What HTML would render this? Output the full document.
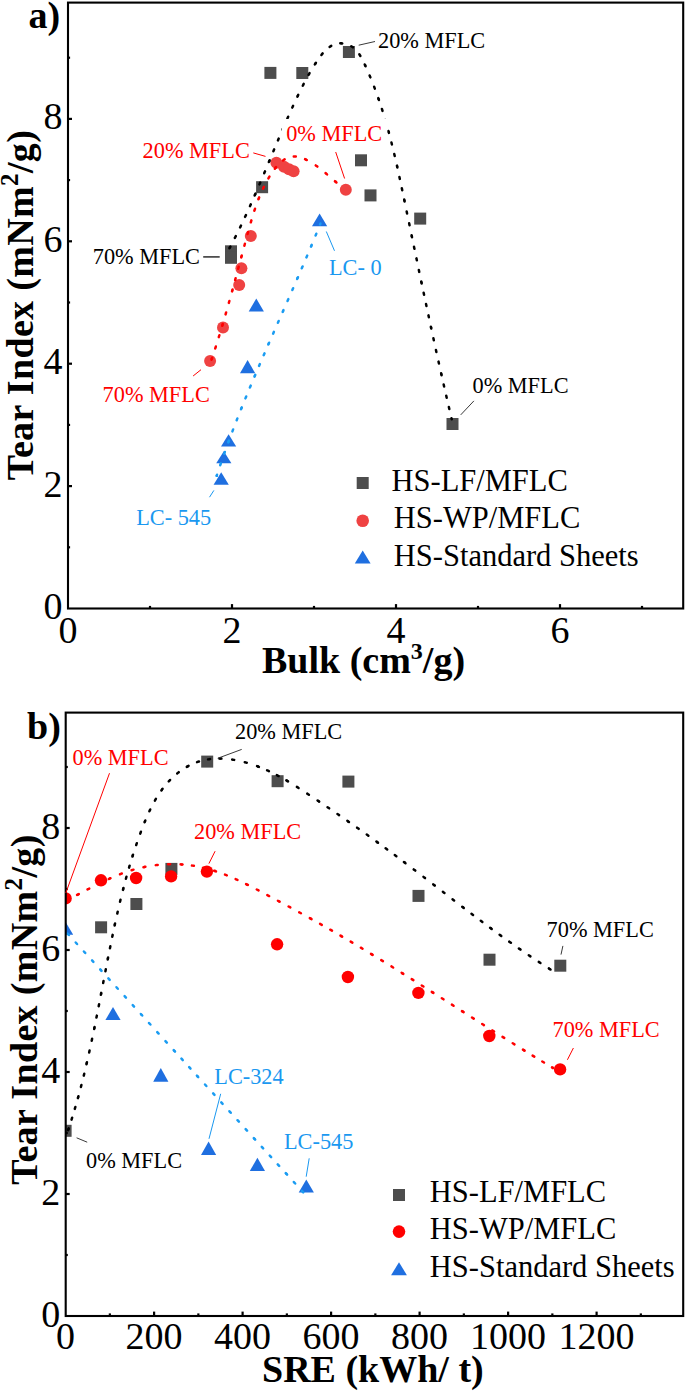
<!DOCTYPE html>
<html><head><meta charset="utf-8"><title>Tear index vs bulk and SRE</title>
<style>
html,body{margin:0;padding:0;background:#fff;width:685px;height:1391px;overflow:hidden;}
svg{display:block;font-family:"Liberation Serif",serif;}
</style></head>
<body>
<svg width="685" height="1391" viewBox="0 0 685 1391">
<rect x="0" y="0" width="685" height="1391" fill="#fff"/>
<defs><clipPath id="ca"><rect x="68" y="2.6" width="615.2" height="605.9"/></clipPath><clipPath id="cb"><rect x="65.7" y="712.6" width="617.5" height="603.4"/></clipPath></defs>
<g clip-path="url(#ca)"><rect x="264.40" y="66.90" width="12" height="12" fill="#4d4d4d"/><rect x="296.30" y="67.00" width="12" height="12" fill="#4d4d4d"/><rect x="342.90" y="46.00" width="12" height="12" fill="#4d4d4d"/><rect x="355.00" y="154.30" width="12" height="12" fill="#4d4d4d"/><rect x="364.50" y="189.40" width="12" height="12" fill="#4d4d4d"/><rect x="414.20" y="212.60" width="12" height="12" fill="#4d4d4d"/><rect x="446.50" y="418.00" width="12" height="12" fill="#4d4d4d"/><rect x="256.10" y="181.20" width="12" height="12" fill="#4d4d4d"/><rect x="225.00" y="245.30" width="12" height="12" fill="#4d4d4d"/><rect x="225.00" y="251.80" width="12" height="12" fill="#4d4d4d"/><circle cx="345.80" cy="189.70" r="6.0" fill="#ef4242"/><circle cx="276.40" cy="162.80" r="6.0" fill="#ef4242"/><circle cx="284.00" cy="166.80" r="6.0" fill="#ef4242"/><circle cx="289.00" cy="169.30" r="6.0" fill="#ef4242"/><circle cx="293.60" cy="171.30" r="6.0" fill="#ef4242"/><circle cx="250.80" cy="235.90" r="6.0" fill="#ef4242"/><circle cx="241.40" cy="268.20" r="6.0" fill="#ef4242"/><circle cx="239.20" cy="285.00" r="6.0" fill="#ef4242"/><circle cx="223.00" cy="327.40" r="6.0" fill="#ef4242"/><circle cx="210.10" cy="361.10" r="6.0" fill="#ef4242"/><polygon points="319.60,213.50 327.20,226.30 312.00,226.30" fill="#1f6fe0"/><polygon points="256.30,298.50 263.90,311.40 248.70,311.40" fill="#1f6fe0"/><polygon points="247.60,360.00 255.20,373.30 240.00,373.30" fill="#1f6fe0"/><polygon points="228.60,434.30 236.20,446.40 221.00,446.40" fill="#1f6fe0"/><polygon points="223.80,451.20 231.40,463.20 216.20,463.20" fill="#1f6fe0"/><polygon points="221.20,472.30 228.80,484.80 213.60,484.80" fill="#1f6fe0"/><path d="M227.50,251.88 L228.32,250.39 L229.13,248.90 L229.93,247.40" fill="none" stroke="#000" stroke-width="2.5" stroke-linecap="round" stroke-dasharray="2.0 10.0" stroke-dashoffset="7.907"/><path d="M229.93,247.40 L230.64,246.08 L231.34,244.75 L232.04,243.42 L232.73,242.09 L233.42,240.76 L234.11,239.43 L234.79,238.09 L235.47,236.75 L236.15,235.41 L236.82,234.07 L237.49,232.73 L238.16,231.38 L238.82,230.04 L239.48,228.69 L240.14,227.34 L240.79,225.99 L241.44,224.63 L242.09,223.28 L242.73,221.92 L243.37,220.57 L244.01,219.21 L244.65,217.85 L245.28,216.49 L245.91,215.13 L246.54,213.76 L247.16,212.40 L247.79,211.03 L248.41,209.67 L249.03,208.30 L249.64,206.93 L250.26,205.56 L250.87,204.19 L251.48,202.82 L252.09,201.45 L252.69,200.07 L253.30,198.70 L253.90,197.32 L254.50,195.95 L255.10,194.57" fill="none" stroke="#000" stroke-width="2.5" stroke-linecap="round" stroke-dasharray="2.0 9.707" stroke-dashoffset="1.000"/><path d="M255.10,194.57 L255.70,193.19 L256.30,191.80 L256.90,190.41 L257.50,189.02 L258.09,187.63 L258.69,186.24 L259.28,184.85 L259.88,183.46 L260.47,182.06 L261.06,180.67 L261.65,179.28 L262.24,177.89 L262.82,176.49 L263.41,175.10 L264.00,173.70 L264.58,172.31 L265.17,170.92 L265.75,169.52 L266.34,168.13 L266.92,166.73 L267.50,165.34 L268.09,163.94 L268.67,162.54 L269.25,161.15" fill="none" stroke="#000" stroke-width="2.5" stroke-linecap="round" stroke-dasharray="2.0 10.099" stroke-dashoffset="1.000"/><path d="M269.25,161.15 L269.84,159.74 L270.43,158.32 L271.02,156.91 L271.61,155.50 L272.20,154.08 L272.79,152.67 L273.38,151.26 L273.97,149.85 L274.56,148.44 L275.16,147.02 L275.75,145.61 L276.34,144.20 L276.94,142.79 L277.53,141.38 L278.13,139.97 L278.73,138.56 L279.32,137.15 L279.92,135.74 L280.52,134.33 L281.12,132.92 L281.73,131.52 L282.33,130.11 L282.94,128.70" fill="none" stroke="#000" stroke-width="2.5" stroke-linecap="round" stroke-dasharray="2.0 9.738" stroke-dashoffset="1.000"/><path d="M282.94,128.70 L283.53,127.32 L284.13,125.94 L284.73,124.56 L285.33,123.18 L285.94,121.80 L286.54,120.42 L287.15,119.05 L287.76,117.67 L288.37,116.29 L288.98,114.92 L289.59,113.54 L290.21,112.17 L290.83,110.80 L291.45,109.43 L292.08,108.06 L292.70,106.69 L293.33,105.32 L293.96,103.96 L294.60,102.59 L295.23,101.23 L295.87,99.87 L296.52,98.50 L297.16,97.14 L297.81,95.79" fill="none" stroke="#000" stroke-width="2.5" stroke-linecap="round" stroke-dasharray="2.0 10.042" stroke-dashoffset="1.000"/><path d="M297.81,95.79 L298.47,94.41 L299.14,93.03 L299.81,91.65 L300.49,90.28 L301.17,88.91 L301.85,87.54 L302.54,86.17 L303.24,84.81 L303.94,83.45 L304.65,82.09 L305.36,80.74 L306.09,79.39 L306.81,78.05 L307.55,76.71 L308.30,75.37 L309.05,74.04 L309.81,72.71 L310.58,71.39 L311.36,70.07 L312.15,68.75 L312.94,67.45 L313.74,66.14 L314.56,64.85 L315.38,63.56" fill="none" stroke="#000" stroke-width="2.5" stroke-linecap="round" stroke-dasharray="2.0 10.244" stroke-dashoffset="1.000"/><path d="M315.38,63.56 L316.23,62.24 L317.09,60.93 L317.97,59.64 L318.87,58.35 L319.78,57.08 L320.72,55.83 L321.69,54.59 L322.69,53.38 L323.72,52.21 L324.79,51.06 L325.90,49.96 L327.06,48.90 L328.26,47.90 L329.52,46.96 L330.83,46.11 L332.20,45.34 L333.62,44.68 L335.09,44.15 L336.60,43.74 L338.15,43.47 L339.71,43.34 L341.27,43.33" fill="none" stroke="#000" stroke-width="2.5" stroke-linecap="round" stroke-dasharray="2.0 9.491" stroke-dashoffset="1.000"/><path d="M341.27,43.33 L342.77,43.44 L344.26,43.65 L345.72,43.97 L347.16,44.39 L348.57,44.91 L349.94,45.53 L351.26,46.24 L352.52,47.04 L353.73,47.94 L354.86,48.93 L355.93,49.98 L356.93,51.10 L357.87,52.26 L358.76,53.47 L359.60,54.72 L360.39,55.99 L361.15,57.29 L361.87,58.61 L362.56,59.94 L363.23,61.28 L363.88,62.63 L364.52,63.99 L365.15,65.35" fill="none" stroke="#000" stroke-width="2.5" stroke-linecap="round" stroke-dasharray="2.0 9.506" stroke-dashoffset="1.000"/><path d="M365.15,65.35 L365.78,66.73 L366.40,68.10 L367.02,69.48 L367.63,70.87 L368.23,72.25 L368.83,73.64 L369.42,75.03 L370.00,76.43 L370.58,77.82 L371.16,79.22 L371.73,80.62 L372.29,82.02 L372.84,83.43 L373.40,84.84 L373.94,86.25 L374.48,87.66 L375.02,89.07 L375.54,90.49 L376.07,91.90 L376.59,93.32 L377.10,94.75 L377.61,96.17 L378.11,97.59 L378.61,99.02" fill="none" stroke="#000" stroke-width="2.5" stroke-linecap="round" stroke-dasharray="2.0 10.091" stroke-dashoffset="1.000"/><path d="M378.61,99.02 L379.12,100.50 L379.62,101.98 L380.12,103.47 L380.61,104.95 L381.10,106.44 L381.59,107.93 L382.06,109.42 L382.54,110.91 L383.01,112.40 L383.47,113.90 L383.93,115.39 L384.38,116.89 L384.83,118.39 L385.28,119.89 L385.72,121.39 L386.15,122.90 L386.58,124.40 L387.01,125.91 L387.43,127.41 L387.85,128.92 L388.27,130.43 L388.68,131.94" fill="none" stroke="#000" stroke-width="2.5" stroke-linecap="round" stroke-dasharray="2.0 9.477" stroke-dashoffset="1.000"/><path d="M388.68,131.94 L389.08,133.44 L389.48,134.94 L389.88,136.44 L390.27,137.94 L390.66,139.44 L391.05,140.94 L391.43,142.45 L391.81,143.95 L392.18,145.46 L392.56,146.96 L392.93,148.47 L393.29,149.98 L393.66,151.49 L394.02,153.00 L394.37,154.51 L394.73,156.02 L395.08,157.53 L395.43,159.04 L395.78,160.55 L396.13,162.06 L396.47,163.58 L396.81,165.09 L397.15,166.60" fill="none" stroke="#000" stroke-width="2.5" stroke-linecap="round" stroke-dasharray="2.0 9.895" stroke-dashoffset="1.000"/><path d="M397.15,166.60 L397.48,168.08 L397.81,169.55 L398.14,171.03 L398.46,172.50 L398.78,173.97 L399.10,175.45 L399.42,176.93 L399.74,178.40 L400.05,179.88 L400.37,181.35 L400.68,182.83 L401.00,184.31 L401.31,185.79 L401.62,187.26 L401.93,188.74 L402.24,190.22 L402.55,191.70 L402.86,193.17 L403.17,194.65 L403.48,196.13 L403.79,197.61 L404.09,199.08 L404.40,200.56" fill="none" stroke="#000" stroke-width="2.5" stroke-linecap="round" stroke-dasharray="2.0 9.575" stroke-dashoffset="1.000"/><path d="M404.40,200.56 L404.71,202.05 L405.02,203.53 L405.33,205.02 L405.64,206.50 L405.95,207.99 L406.25,209.48 L406.56,210.96 L406.87,212.45 L407.18,213.93 L407.49,215.42 L407.80,216.90 L408.11,218.39 L408.41,219.87 L408.72,221.36 L409.03,222.84 L409.34,224.33 L409.65,225.82 L409.96,227.30 L410.26,228.79 L410.57,230.27 L410.88,231.76 L411.19,233.24 L411.50,234.73 L411.81,236.21" fill="none" stroke="#000" stroke-width="2.5" stroke-linecap="round" stroke-dasharray="2.0 10.137" stroke-dashoffset="1.000"/><path d="M411.81,236.21 L412.12,237.71 L412.43,239.20 L412.74,240.69 L413.05,242.18 L413.36,243.68 L413.67,245.17 L413.98,246.66 L414.29,248.15 L414.60,249.65 L414.91,251.14 L415.22,252.63 L415.53,254.12 L415.84,255.62 L416.16,257.11 L416.47,258.60 L416.78,260.09 L417.09,261.59 L417.40,263.08 L417.71,264.57 L418.03,266.06 L418.34,267.56 L418.65,269.05 L418.96,270.54 L419.27,272.03 L419.59,273.52 L419.90,275.02 L420.21,276.51 L420.53,278.00 L420.84,279.49 L421.15,280.98 L421.47,282.48" fill="none" stroke="#000" stroke-width="2.5" stroke-linecap="round" stroke-dasharray="2.0 9.815" stroke-dashoffset="1.000"/><path d="M421.47,282.48 L421.78,283.98 L422.10,285.49 L422.42,286.99 L422.73,288.50 L423.05,290.00 L423.37,291.51 L423.69,293.02 L424.01,294.52 L424.33,296.03 L424.64,297.53 L424.96,299.04 L425.28,300.54 L425.60,302.05 L425.92,303.55 L426.24,305.06 L426.56,306.56 L426.88,308.07 L427.20,309.57 L427.53,311.08 L427.85,312.58 L428.17,314.09 L428.49,315.59 L428.81,317.10 L429.14,318.60 L429.46,320.11 L429.78,321.61 L430.11,323.12 L430.43,324.62 L430.75,326.13 L431.08,327.63" fill="none" stroke="#000" stroke-width="2.5" stroke-linecap="round" stroke-dasharray="2.0 9.541" stroke-dashoffset="1.000"/><path d="M431.08,327.63 L431.40,329.13 L431.73,330.64 L432.06,332.14 L432.38,333.65 L432.71,335.15 L433.04,336.66 L433.36,338.16 L433.69,339.67 L434.02,341.17 L434.35,342.67 L434.68,344.18 L435.00,345.68 L435.33,347.18 L435.66,348.69 L436.00,350.19 L436.33,351.70 L436.66,353.20 L436.99,354.70 L437.32,356.21 L437.65,357.71 L437.99,359.21 L438.32,360.71 L438.66,362.22 L438.99,363.72 L439.32,365.22 L439.66,366.72 L440.00,368.23 L440.33,369.73 L440.67,371.23 L441.01,372.73 L441.34,374.24" fill="none" stroke="#000" stroke-width="2.5" stroke-linecap="round" stroke-dasharray="2.0 9.931" stroke-dashoffset="1.000"/><path d="M441.34,374.24 L441.68,375.74 L442.02,377.24 L442.36,378.74 L442.70,380.24 L443.04,381.74 L443.38,383.24 L443.72,384.74 L444.06,386.24 L444.41,387.74 L444.75,389.24 L445.09,390.74 L445.44,392.24 L445.78,393.74 L446.13,395.23 L446.47,396.73 L446.82,398.23 L447.17,399.73 L447.51,401.23 L447.86,402.73 L448.21,404.23 L448.56,405.72 L448.91,407.22 L449.26,408.72 L449.61,410.22 L449.96,411.72 L450.31,413.21 L450.67,414.71 L451.02,416.21 L451.37,417.70 L451.73,419.20" fill="none" stroke="#000" stroke-width="2.5" stroke-linecap="round" stroke-dasharray="2.0 9.537" stroke-dashoffset="1.000"/><path d="M210.87,361.53 L211.82,358.75" fill="none" stroke="#ff0000" stroke-width="2.5" stroke-linecap="round" stroke-dasharray="2.0 10.0" stroke-dashoffset="10.061"/><path d="M211.82,358.75 L212.31,357.29 L212.80,355.82 L213.29,354.36 L213.77,352.89 L214.25,351.42 L214.73,349.95 L215.20,348.49 L215.68,347.02 L216.15,345.54 L216.62,344.07 L217.08,342.60 L217.55,341.13 L218.01,339.65 L218.47,338.18 L218.92,336.71 L219.38,335.23 L219.83,333.75 L220.28,332.28 L220.73,330.80 L221.18,329.32 L221.62,327.84 L222.06,326.36 L222.51,324.88" fill="none" stroke="#ff0000" stroke-width="2.5" stroke-linecap="round" stroke-dasharray="2.0 9.839" stroke-dashoffset="1.000"/><path d="M222.51,324.88 L222.95,323.39 L223.39,321.90 L223.83,320.40 L224.26,318.91 L224.70,317.41 L225.13,315.92 L225.57,314.42 L226.00,312.93 L226.43,311.43 L226.85,309.93 L227.28,308.44 L227.70,306.94 L228.13,305.44 L228.55,303.94 L228.97,302.44 L229.39,300.94 L229.81,299.45 L230.23,297.95 L230.64,296.45 L231.06,294.95 L231.47,293.44 L231.89,291.94 L232.30,290.44" fill="none" stroke="#ff0000" stroke-width="2.5" stroke-linecap="round" stroke-dasharray="2.0 9.935" stroke-dashoffset="1.000"/><path d="M232.30,290.44 L232.70,288.97 L233.11,287.49 L233.51,286.01 L233.91,284.54 L234.32,283.06 L234.72,281.58 L235.12,280.11 L235.52,278.63 L235.92,277.15 L236.32,275.67 L236.72,274.20 L237.11,272.72 L237.51,271.24 L237.91,269.76 L238.31,268.28 L238.71,266.81 L239.10,265.33 L239.50,263.85 L239.90,262.37 L240.29,260.89 L240.69,259.42 L241.09,257.94 L241.48,256.46" fill="none" stroke="#ff0000" stroke-width="2.5" stroke-linecap="round" stroke-dasharray="2.0 9.734" stroke-dashoffset="1.000"/><path d="M241.48,256.46 L241.88,254.99 L242.27,253.53 L242.67,252.06 L243.06,250.60 L243.45,249.13 L243.85,247.67 L244.24,246.21 L244.64,244.74 L245.03,243.28 L245.43,241.81 L245.83,240.35 L246.23,238.88 L246.62,237.42 L247.02,235.96 L247.42,234.49 L247.82,233.03 L248.22,231.57 L248.63,230.11 L249.03,228.64 L249.44,227.18 L249.85,225.72 L250.26,224.26 L250.68,222.80 L251.10,221.35 L251.52,219.89 L251.95,218.44 L252.39,216.98 L252.84,215.53 L253.29,214.08 L253.74,212.64 L254.21,211.19 L254.68,209.75 L255.16,208.31 L255.65,206.88 L256.15,205.45 L256.66,204.02 L257.18,202.59 L257.71,201.17 L258.25,199.75 L258.81,198.34" fill="none" stroke="#ff0000" stroke-width="2.5" stroke-linecap="round" stroke-dasharray="2.0 10.135" stroke-dashoffset="1.000"/><path d="M258.81,198.34 L259.37,196.94 L259.94,195.54 L260.53,194.15 L261.13,192.76 L261.75,191.38 L262.37,190.00 L263.01,188.63 L263.67,187.27 L264.34,185.91 L265.02,184.56 L265.72,183.22 L266.43,181.89 L267.16,180.56 L267.91,179.25 L268.66,177.94 L269.44,176.64 L270.23,175.35 L271.04,174.07 L271.87,172.81 L272.72,171.56 L273.59,170.32 L274.49,169.11 L275.42,167.91" fill="none" stroke="#ff0000" stroke-width="2.5" stroke-linecap="round" stroke-dasharray="2.0 9.593" stroke-dashoffset="1.000"/><path d="M275.42,167.91 L276.39,166.74 L277.38,165.59 L278.42,164.47 L279.49,163.39 L280.61,162.35 L281.77,161.37 L282.97,160.44 L284.23,159.58 L285.54,158.80 L286.90,158.11 L288.30,157.53 L289.75,157.06 L291.24,156.72 L292.75,156.52 L294.27,156.46 L295.79,156.53 L297.30,156.72 L298.79,157.01 L300.27,157.39 L301.72,157.84 L303.15,158.36 L304.56,158.94 L305.95,159.57" fill="none" stroke="#ff0000" stroke-width="2.5" stroke-linecap="round" stroke-dasharray="2.0 9.676" stroke-dashoffset="1.000"/><path d="M305.95,159.57 L307.34,160.26 L308.71,160.99 L310.06,161.75 L311.39,162.55 L312.71,163.37 L314.01,164.22 L315.29,165.09 L316.56,165.99 L317.82,166.90 L319.06,167.83 L320.29,168.77 L321.51,169.73 L322.72,170.70 L323.92,171.69 L325.11,172.68 L326.29,173.69 L327.47,174.70 L328.64,175.72 L329.81,176.74 L330.97,177.77 L332.14,178.79 L333.31,179.81 L334.49,180.82 L335.68,181.81" fill="none" stroke="#ff0000" stroke-width="2.5" stroke-linecap="round" stroke-dasharray="2.0 10.417" stroke-dashoffset="1.000"/><path d="M335.68,181.81 L336.86,182.78 L338.07,183.72 L339.28,184.64 L340.52,185.53 L341.78,186.39 L343.06,187.23 L344.35,188.03" fill="none" stroke="#ff0000" stroke-width="2.5" stroke-linecap="round" stroke-dasharray="2.0 10.0" stroke-dashoffset="1.000"/><path d="M216.70,475.81 L216.72,475.74" fill="none" stroke="#1a9cf2" stroke-width="2.5" stroke-linecap="round" stroke-dasharray="2.0 10.0" stroke-dashoffset="0.932"/><path d="M216.72,475.74 L217.19,474.30 L217.66,472.87 L218.14,471.43 L218.61,470.00 L219.09,468.57 L219.57,467.13 L220.05,465.70 L220.54,464.27 L221.03,462.84 L221.52,461.41 L222.01,459.99 L222.50,458.56 L223.00,457.13 L223.50,455.71 L224.00,454.28 L224.51,452.86 L225.01,451.43 L225.52,450.01 L226.03,448.59 L226.54,447.17 L227.06,445.75 L227.57,444.33 L228.09,442.91 L228.61,441.49" fill="none" stroke="#1a9cf2" stroke-width="2.5" stroke-linecap="round" stroke-dasharray="2.0 10.086" stroke-dashoffset="1.000"/><path d="M228.61,441.49 L229.15,440.04 L229.68,438.59 L230.22,437.15 L230.76,435.70 L231.31,434.25 L231.85,432.81 L232.40,431.36 L232.95,429.92 L233.50,428.47 L234.05,427.03 L234.60,425.59 L235.16,424.15 L235.72,422.71 L236.28,421.27 L236.84,419.83 L237.40,418.39 L237.96,416.95 L238.53,415.52 L239.10,414.08 L239.67,412.64 L240.24,411.21 L240.81,409.77 L241.39,408.34" fill="none" stroke="#1a9cf2" stroke-width="2.5" stroke-linecap="round" stroke-dasharray="2.0 9.842" stroke-dashoffset="1.000"/><path d="M241.39,408.34 L241.96,406.92 L242.53,405.49 L243.11,404.07 L243.68,402.65 L244.26,401.23 L244.84,399.81 L245.42,398.39 L246.00,396.97 L246.58,395.55 L247.17,394.13 L247.75,392.71 L248.34,391.29 L248.93,389.88 L249.52,388.46 L250.11,387.04 L250.70,385.63 L251.29,384.21 L251.89,382.80 L252.48,381.38 L253.08,379.97 L253.67,378.56 L254.27,377.14 L254.87,375.73" fill="none" stroke="#1a9cf2" stroke-width="2.5" stroke-linecap="round" stroke-dasharray="2.0 9.763" stroke-dashoffset="1.000"/><path d="M254.87,375.73 L255.47,374.33 L256.06,372.93 L256.66,371.53 L257.26,370.13 L257.85,368.73 L258.45,367.34 L259.05,365.94 L259.65,364.54 L260.26,363.14 L260.86,361.75 L261.46,360.35 L262.06,358.96 L262.67,357.56 L263.27,356.16 L263.88,354.77 L264.49,353.37 L265.09,351.98 L265.70,350.59 L266.31,349.19 L266.92,347.80 L267.52,346.40 L268.13,345.01 L268.74,343.62" fill="none" stroke="#1a9cf2" stroke-width="2.5" stroke-linecap="round" stroke-dasharray="2.0 9.660" stroke-dashoffset="1.000"/><path d="M268.74,343.62 L269.36,342.20 L269.99,340.78 L270.61,339.36 L271.23,337.95 L271.85,336.53 L272.48,335.11 L273.10,333.69 L273.72,332.28 L274.35,330.86 L274.97,329.44 L275.60,328.03 L276.22,326.61 L276.85,325.19 L277.47,323.78 L278.10,322.36 L278.72,320.94 L279.35,319.53 L279.97,318.11 L280.60,316.69 L281.22,315.28 L281.85,313.86 L282.47,312.44 L283.10,311.03" fill="none" stroke="#1a9cf2" stroke-width="2.5" stroke-linecap="round" stroke-dasharray="2.0 9.870" stroke-dashoffset="1.000"/><path d="M283.10,311.03 L283.73,309.60 L284.36,308.17 L284.99,306.74 L285.62,305.31 L286.25,303.88 L286.88,302.45 L287.51,301.02 L288.14,299.59 L288.77,298.16 L289.40,296.73 L290.03,295.30 L290.66,293.87 L291.28,292.44 L291.91,291.01 L292.54,289.57 L293.16,288.14 L293.79,286.71 L294.42,285.28 L295.04,283.85 L295.67,282.42 L296.29,280.98 L296.91,279.55 L297.54,278.12" fill="none" stroke="#1a9cf2" stroke-width="2.5" stroke-linecap="round" stroke-dasharray="2.0 9.980" stroke-dashoffset="1.000"/><path d="M297.54,278.12 L298.15,276.71 L298.76,275.31 L299.36,273.90 L299.97,272.50 L300.58,271.09 L301.19,269.68 L301.79,268.28 L302.40,266.87 L303.00,265.46 L303.60,264.06 L304.21,262.65 L304.81,261.24 L305.41,259.83 L306.01,258.42 L306.61,257.01 L307.20,255.60 L307.80,254.19 L308.40,252.78 L308.99,251.37 L309.58,249.96 L310.18,248.55 L310.77,247.14 L311.36,245.72" fill="none" stroke="#1a9cf2" stroke-width="2.5" stroke-linecap="round" stroke-dasharray="2.0 9.740" stroke-dashoffset="1.000"/><path d="M311.36,245.72 L311.94,244.34 L312.52,242.95 L313.09,241.56 L313.67,240.17 L314.24,238.78 L314.82,237.39 L315.39,236.00 L315.96,234.60 L316.53,233.21 L317.09,231.82 L317.66,230.43 L318.23,229.03 L318.79,227.64 L319.35,226.24 L319.91,224.85 L320.47,223.45" fill="none" stroke="#1a9cf2" stroke-width="2.5" stroke-linecap="round" stroke-dasharray="2.0 10.0" stroke-dashoffset="1.000"/></g>
<g clip-path="url(#cb)"><rect x="59.60" y="1124.80" width="12" height="12" fill="#4d4d4d"/><rect x="95.10" y="921.30" width="12" height="12" fill="#4d4d4d"/><rect x="130.40" y="898.00" width="12" height="12" fill="#4d4d4d"/><rect x="165.40" y="862.90" width="12" height="12" fill="#4d4d4d"/><rect x="201.20" y="755.60" width="12" height="12" fill="#4d4d4d"/><rect x="271.60" y="775.20" width="12" height="12" fill="#4d4d4d"/><rect x="342.40" y="775.60" width="12" height="12" fill="#4d4d4d"/><rect x="412.50" y="889.90" width="12" height="12" fill="#4d4d4d"/><rect x="483.50" y="953.70" width="12" height="12" fill="#4d4d4d"/><rect x="554.30" y="959.70" width="12" height="12" fill="#4d4d4d"/><circle cx="65.60" cy="898.40" r="6.2" fill="#ff0000"/><circle cx="101.00" cy="880.30" r="6.2" fill="#ff0000"/><circle cx="136.10" cy="878.00" r="6.2" fill="#ff0000"/><circle cx="171.10" cy="876.40" r="6.2" fill="#ff0000"/><circle cx="206.90" cy="871.60" r="6.2" fill="#ff0000"/><circle cx="277.10" cy="944.30" r="6.2" fill="#ff0000"/><circle cx="347.90" cy="977.00" r="6.2" fill="#ff0000"/><circle cx="418.40" cy="992.90" r="6.2" fill="#ff0000"/><circle cx="489.30" cy="1036.00" r="6.2" fill="#ff0000"/><circle cx="560.10" cy="1069.40" r="6.2" fill="#ff0000"/><polygon points="65.60,921.90 73.20,934.70 58.00,934.70" fill="#1f6fe0"/><polygon points="113.00,1006.90 120.60,1020.10 105.40,1020.10" fill="#1f6fe0"/><polygon points="160.80,1068.10 168.40,1081.70 153.20,1081.70" fill="#1f6fe0"/><polygon points="208.60,1141.60 216.20,1154.90 201.00,1154.90" fill="#1f6fe0"/><polygon points="257.40,1157.70 265.00,1171.00 249.80,1171.00" fill="#1f6fe0"/><polygon points="306.30,1179.60 313.90,1192.50 298.70,1192.50" fill="#1f6fe0"/><path d="M67.21,1132.76 L67.81,1131.01 L68.40,1129.27" fill="none" stroke="#000" stroke-width="2.5" stroke-linecap="round" stroke-dasharray="2.0 10.0" stroke-dashoffset="9.311"/><path d="M68.40,1129.27 L68.88,1127.82 L69.36,1126.38 L69.83,1124.93 L70.31,1123.48 L70.77,1122.03 L71.24,1120.58 L71.69,1119.13 L72.15,1117.67 L72.60,1116.22 L73.05,1114.76 L73.49,1113.30 L73.93,1111.84 L74.37,1110.39 L74.80,1108.92 L75.23,1107.46 L75.66,1106.00 L76.08,1104.54 L76.50,1103.07 L76.92,1101.61 L77.33,1100.14 L77.74,1098.67 L78.15,1097.21" fill="none" stroke="#000" stroke-width="2.5" stroke-linecap="round" stroke-dasharray="2.0 9.172" stroke-dashoffset="1.000"/><path d="M78.15,1097.21 L78.55,1095.74 L78.95,1094.27 L79.35,1092.81 L79.74,1091.34 L80.13,1089.87 L80.52,1088.40 L80.91,1086.93 L81.29,1085.46 L81.67,1083.99 L82.04,1082.51 L82.42,1081.04 L82.79,1079.56 L83.16,1078.09 L83.52,1076.61 L83.89,1075.14 L84.25,1073.66 L84.61,1072.18 L84.96,1070.71 L85.32,1069.23 L85.67,1067.75 L86.02,1066.27 L86.36,1064.79 L86.71,1063.31" fill="none" stroke="#000" stroke-width="2.5" stroke-linecap="round" stroke-dasharray="2.0 9.654" stroke-dashoffset="1.000"/><path d="M86.71,1063.31 L87.05,1061.84 L87.38,1060.37 L87.72,1058.90 L88.05,1057.43 L88.39,1055.96 L88.71,1054.49 L89.04,1053.02 L89.37,1051.55 L89.69,1050.08 L90.01,1048.61 L90.33,1047.13 L90.65,1045.66 L90.97,1044.19 L91.29,1042.71 L91.60,1041.24 L91.91,1039.76 L92.22,1038.29 L92.53,1036.81 L92.84,1035.34 L93.15,1033.86 L93.45,1032.39 L93.76,1030.91 L94.06,1029.44 L94.36,1027.96" fill="none" stroke="#000" stroke-width="2.5" stroke-linecap="round" stroke-dasharray="2.0 10.057" stroke-dashoffset="1.000"/><path d="M94.36,1027.96 L94.66,1026.48 L94.96,1025.00 L95.26,1023.51 L95.56,1022.03 L95.86,1020.55 L96.16,1019.07 L96.45,1017.58 L96.75,1016.10 L97.04,1014.62 L97.33,1013.13 L97.62,1011.65 L97.92,1010.17 L98.21,1008.68 L98.50,1007.20 L98.79,1005.71 L99.08,1004.23 L99.36,1002.75 L99.65,1001.26 L99.94,999.78 L100.23,998.29 L100.51,996.81 L100.80,995.32 L101.08,993.84" fill="none" stroke="#000" stroke-width="2.5" stroke-linecap="round" stroke-dasharray="2.0 9.592" stroke-dashoffset="1.000"/><path d="M101.08,993.84 L101.38,992.30 L101.67,990.77 L101.97,989.23 L102.26,987.70 L102.56,986.16 L102.85,984.63 L103.15,983.09 L103.44,981.56 L103.74,980.02 L104.03,978.49 L104.33,976.95 L104.62,975.42 L104.92,973.88 L105.21,972.35 L105.51,970.81 L105.81,969.28 L106.10,967.74 L106.40,966.21 L106.70,964.67 L107.00,963.14 L107.30,961.61 L107.60,960.07 L107.90,958.54" fill="none" stroke="#000" stroke-width="2.5" stroke-linecap="round" stroke-dasharray="2.0 9.984" stroke-dashoffset="1.000"/><path d="M107.90,958.54 L108.19,957.06 L108.48,955.58 L108.77,954.10 L109.07,952.62 L109.36,951.14 L109.66,949.66 L109.95,948.18 L110.25,946.70 L110.55,945.22 L110.85,943.74 L111.15,942.26 L111.45,940.78 L111.75,939.30 L112.05,937.83 L112.36,936.35 L112.67,934.87 L112.97,933.39 L113.28,931.92 L113.59,930.44 L113.91,928.97 L114.22,927.49 L114.53,926.01 L114.85,924.54" fill="none" stroke="#000" stroke-width="2.5" stroke-linecap="round" stroke-dasharray="2.0 9.568" stroke-dashoffset="1.000"/><path d="M114.85,924.54 L115.17,923.05 L115.50,921.56 L115.82,920.07 L116.15,918.58 L116.48,917.09 L116.82,915.60 L117.15,914.11 L117.49,912.62 L117.82,911.13 L118.17,909.65 L118.51,908.16 L118.85,906.68 L119.20,905.19 L119.55,903.71 L119.91,902.22 L120.26,900.74 L120.62,899.25 L120.98,897.77 L121.35,896.29 L121.71,894.81 L122.08,893.33 L122.46,891.85 L122.83,890.37 L123.21,888.89" fill="none" stroke="#000" stroke-width="2.5" stroke-linecap="round" stroke-dasharray="2.0 10.205" stroke-dashoffset="1.000"/><path d="M123.21,888.89 L123.59,887.44 L123.97,885.98 L124.35,884.53 L124.73,883.07 L125.12,881.62 L125.51,880.17 L125.91,878.72 L126.31,877.27 L126.71,875.82 L127.12,874.37 L127.52,872.92 L127.94,871.47 L128.35,870.03 L128.77,868.58 L129.19,867.14 L129.62,865.69 L130.05,864.25 L130.48,862.81 L130.92,861.37 L131.36,859.93 L131.81,858.50 L132.26,857.06 L132.71,855.63" fill="none" stroke="#000" stroke-width="2.5" stroke-linecap="round" stroke-dasharray="2.0 9.534" stroke-dashoffset="1.000"/><path d="M132.71,855.63 L133.17,854.18 L133.63,852.74 L134.10,851.30 L134.57,849.86 L135.05,848.42 L135.53,846.98 L136.01,845.55 L136.50,844.11 L137.00,842.68 L137.49,841.24 L137.99,839.81 L138.50,838.39 L139.01,836.96 L139.52,835.53 L140.04,834.11 L140.57,832.69 L141.09,831.26 L141.62,829.85 L142.16,828.43 L142.71,827.01 L143.26,825.60 L143.81,824.19 L144.38,822.78 L144.95,821.38" fill="none" stroke="#000" stroke-width="2.5" stroke-linecap="round" stroke-dasharray="2.0 10.126" stroke-dashoffset="1.000"/><path d="M144.95,821.38 L145.52,819.99 L146.11,818.60 L146.70,817.22 L147.30,815.84 L147.91,814.46 L148.53,813.09 L149.16,811.73 L149.81,810.37 L150.46,809.01 L151.13,807.66 L151.80,806.32 L152.50,804.98 L153.20,803.65 L153.92,802.33 L154.65,801.02 L155.40,799.71 L156.16,798.42 L156.94,797.13 L157.74,795.85 L158.55,794.58 L159.38,793.33 L160.22,792.08 L161.09,790.85 L161.97,789.63" fill="none" stroke="#000" stroke-width="2.5" stroke-linecap="round" stroke-dasharray="2.0 10.037" stroke-dashoffset="1.000"/><path d="M161.97,789.63 L162.87,788.41 L163.80,787.21 L164.75,786.02 L165.71,784.85 L166.70,783.69 L167.70,782.55 L168.72,781.43 L169.76,780.32 L170.82,779.23 L171.90,778.17 L173.00,777.12 L174.12,776.09 L175.25,775.08 L176.41,774.09 L177.58,773.13 L178.78,772.19 L179.99,771.27 L181.22,770.38 L182.47,769.52 L183.73,768.68 L185.02,767.87 L186.32,767.09 L187.64,766.34" fill="none" stroke="#000" stroke-width="2.5" stroke-linecap="round" stroke-dasharray="2.0 9.645" stroke-dashoffset="1.000"/><path d="M187.64,766.34 L189.00,765.60 L190.38,764.90 L191.78,764.23 L193.19,763.60 L194.62,763.01 L196.06,762.45 L197.52,761.93 L198.99,761.45 L200.48,761.01 L201.97,760.61 L203.48,760.25 L204.99,759.92 L206.51,759.64 L208.04,759.38 L209.57,759.17 L211.11,758.99 L212.65,758.84 L214.19,758.73 L215.74,758.64 L217.29,758.59 L218.83,758.57 L220.38,758.58" fill="none" stroke="#000" stroke-width="2.5" stroke-linecap="round" stroke-dasharray="2.0 9.350" stroke-dashoffset="1.000"/><path d="M220.38,758.58 L221.93,758.62 L223.47,758.69 L225.01,758.79 L226.55,758.91 L228.09,759.05 L229.63,759.23 L231.16,759.42 L232.69,759.64 L234.22,759.89 L235.74,760.15 L237.26,760.44 L238.77,760.75 L240.28,761.08 L241.79,761.43 L243.29,761.80 L244.78,762.19 L246.27,762.60 L247.76,763.02 L249.24,763.47 L250.71,763.93 L252.18,764.41 L253.65,764.90 L255.10,765.41 L256.56,765.94 L258.00,766.48" fill="none" stroke="#000" stroke-width="2.5" stroke-linecap="round" stroke-dasharray="2.0 10.878" stroke-dashoffset="1.000"/><path d="M258.00,766.48 L259.45,767.05 L260.89,767.62 L262.33,768.22 L263.76,768.82 L265.18,769.44 L266.60,770.08 L268.01,770.72 L269.41,771.38 L270.81,772.06 L272.21,772.74 L273.59,773.44 L274.98,774.14 L276.35,774.86 L277.73,775.59 L279.09,776.33 L280.45,777.07 L281.81,777.83 L283.16,778.59 L284.51,779.36 L285.85,780.14 L287.19,780.93" fill="none" stroke="#000" stroke-width="2.5" stroke-linecap="round" stroke-dasharray="2.0 8.868" stroke-dashoffset="1.000"/><path d="M287.19,780.93 L288.52,781.72 L289.84,782.52 L291.16,783.32 L292.48,784.13 L293.79,784.95 L295.11,785.77 L296.41,786.59 L297.72,787.42 L299.02,788.26 L300.32,789.09 L301.62,789.93 L302.91,790.78 L304.21,791.62 L305.50,792.47 L306.79,793.32 L308.08,794.17 L309.37,795.03 L310.66,795.88 L311.95,796.74 L313.24,797.59 L314.53,798.45 L315.81,799.31 L317.10,800.17 L318.38,801.03" fill="none" stroke="#000" stroke-width="2.5" stroke-linecap="round" stroke-dasharray="2.0 10.370" stroke-dashoffset="1.000"/><path d="M318.38,801.03 L319.63,801.87 L320.88,802.70 L322.13,803.54 L323.37,804.38 L324.62,805.23 L325.86,806.07 L327.11,806.91 L328.35,807.76 L329.60,808.60 L330.84,809.45 L332.08,810.30 L333.32,811.14 L334.56,811.99 L335.80,812.84 L337.04,813.70 L338.28,814.55 L339.52,815.40 L340.75,816.26 L341.99,817.11 L343.23,817.97 L344.46,818.83 L345.70,819.68 L346.93,820.54 L348.16,821.40" fill="none" stroke="#000" stroke-width="2.5" stroke-linecap="round" stroke-dasharray="2.0 10.028" stroke-dashoffset="1.000"/><path d="M348.16,821.40 L349.43,822.29 L350.70,823.18 L351.97,824.07 L353.24,824.97 L354.51,825.86 L355.78,826.75 L357.04,827.65 L358.31,828.55 L359.57,829.44 L360.84,830.34 L362.10,831.24 L363.36,832.14 L364.62,833.04 L365.89,833.95 L367.15,834.85 L368.41,835.75 L369.66,836.66 L370.92,837.57 L372.18,838.48 L373.44,839.39 L374.69,840.30 L375.95,841.21 L377.20,842.12" fill="none" stroke="#000" stroke-width="2.5" stroke-linecap="round" stroke-dasharray="2.0 9.890" stroke-dashoffset="1.000"/><path d="M377.20,842.12 L378.46,843.04 L379.72,843.96 L380.97,844.88 L382.23,845.80 L383.48,846.72 L384.74,847.64 L385.99,848.56 L387.25,849.49 L388.50,850.42 L389.75,851.34 L391.00,852.27 L392.25,853.20 L393.50,854.13 L394.75,855.06 L395.99,855.99 L397.24,856.93 L398.49,857.86 L399.73,858.80 L400.98,859.74 L402.22,860.67 L403.46,861.61 L404.70,862.55" fill="none" stroke="#000" stroke-width="2.5" stroke-linecap="round" stroke-dasharray="2.0 9.421" stroke-dashoffset="1.000"/><path d="M404.70,862.55 L405.93,863.48 L407.16,864.41 L408.38,865.34 L409.61,866.27 L410.83,867.20 L412.05,868.13 L413.28,869.07 L414.50,870.00 L415.72,870.93 L416.94,871.87 L418.16,872.80 L419.38,873.74 L420.60,874.67 L421.82,875.61 L423.04,876.55 L424.26,877.48 L425.48,878.42 L426.70,879.36 L427.92,880.30 L429.14,881.24 L430.36,882.18 L431.57,883.11 L432.79,884.05 L434.01,884.99" fill="none" stroke="#000" stroke-width="2.5" stroke-linecap="round" stroke-dasharray="2.0 10.303" stroke-dashoffset="1.000"/><path d="M434.01,884.99 L435.22,885.92 L436.42,886.85 L437.63,887.79 L438.84,888.72 L440.04,889.65 L441.25,890.58 L442.46,891.51 L443.67,892.44 L444.87,893.37 L446.08,894.31 L447.29,895.24 L448.50,896.17 L449.70,897.10 L450.91,898.03 L452.12,898.96 L453.33,899.89 L454.54,900.82 L455.75,901.75 L456.95,902.68 L458.16,903.60 L459.37,904.53 L460.58,905.46 L461.79,906.39 L463.01,907.31" fill="none" stroke="#000" stroke-width="2.5" stroke-linecap="round" stroke-dasharray="2.0 10.197" stroke-dashoffset="1.000"/><path d="M463.01,907.31 L464.21,908.23 L465.42,909.16 L466.63,910.08 L467.83,911.00 L469.04,911.92 L470.25,912.84 L471.46,913.75 L472.67,914.67 L473.88,915.59 L475.09,916.50 L476.31,917.42 L477.52,918.33 L478.73,919.25 L479.94,920.16 L481.16,921.07 L482.37,921.98 L483.59,922.89 L484.81,923.80 L486.02,924.71 L487.24,925.62 L488.46,926.52 L489.68,927.43 L490.90,928.33" fill="none" stroke="#000" stroke-width="2.5" stroke-linecap="round" stroke-dasharray="2.0 9.643" stroke-dashoffset="1.000"/><path d="M490.90,928.33 L492.14,929.24 L493.39,930.16 L494.63,931.07 L495.87,931.99 L497.12,932.90 L498.36,933.81 L499.61,934.71 L500.86,935.62 L502.11,936.53 L503.36,937.43 L504.61,938.33 L505.86,939.23 L507.11,940.13 L508.37,941.03 L509.62,941.92 L510.88,942.82 L512.14,943.71 L513.40,944.60 L514.66,945.49 L515.92,946.38 L517.19,947.26 L518.45,948.14 L519.72,949.02" fill="none" stroke="#000" stroke-width="2.5" stroke-linecap="round" stroke-dasharray="2.0 9.826" stroke-dashoffset="1.000"/><path d="M519.72,949.02 L521.00,949.92 L522.29,950.81 L523.58,951.69 L524.87,952.58 L526.16,953.46 L527.45,954.34 L528.74,955.22 L530.04,956.10 L531.34,956.97 L532.63,957.84 L533.94,958.71 L535.24,959.58 L536.54,960.44 L537.85,961.31 L539.15,962.16 L540.46,963.02 L541.77,963.88 L543.08,964.73 L544.40,965.58 L545.71,966.42 L547.03,967.27 L548.35,968.11 L549.67,968.95" fill="none" stroke="#000" stroke-width="2.5" stroke-linecap="round" stroke-dasharray="2.0 9.992" stroke-dashoffset="1.000"/><path d="M549.67,968.95 L551.00,969.78 L552.32,970.62 L553.65,971.45 L554.98,972.28 L556.32,973.10" fill="none" stroke="#000" stroke-width="2.5" stroke-linecap="round" stroke-dasharray="2.0 10.0" stroke-dashoffset="1.000"/><path d="M67.23,900.13 L68.58,899.44 L69.92,898.74 L71.26,898.04 L72.59,897.34 L73.93,896.64 L75.27,895.93 L76.60,895.22 L77.94,894.52" fill="none" stroke="#ff0000" stroke-width="2.5" stroke-linecap="round" stroke-dasharray="2.0 10.0" stroke-dashoffset="0.908"/><path d="M77.94,894.52 L79.30,893.79 L80.66,893.07 L82.02,892.35 L83.39,891.63 L84.75,890.91 L86.11,890.20 L87.48,889.48 L88.84,888.77 L90.21,888.06 L91.58,887.35 L92.95,886.65 L94.32,885.95 L95.70,885.25 L97.07,884.56 L98.45,883.88 L99.83,883.19 L101.22,882.52 L102.60,881.85 L104.00,881.19 L105.39,880.53 L106.79,879.88 L108.19,879.24 L109.59,878.61" fill="none" stroke="#ff0000" stroke-width="2.5" stroke-linecap="round" stroke-dasharray="2.0 9.810" stroke-dashoffset="1.000"/><path d="M109.59,878.61 L110.99,877.98 L112.40,877.37 L113.81,876.76 L115.22,876.17 L116.64,875.58 L118.06,875.01 L119.49,874.44 L120.92,873.89 L122.35,873.35 L123.79,872.82 L125.24,872.31 L126.69,871.80 L128.14,871.32 L129.60,870.84 L131.06,870.38 L132.53,869.94 L134.01,869.51 L135.48,869.10 L136.96,868.70 L138.45,868.32 L139.94,867.95 L141.43,867.60 L142.93,867.27 L144.43,866.96" fill="none" stroke="#ff0000" stroke-width="2.5" stroke-linecap="round" stroke-dasharray="2.0 10.272" stroke-dashoffset="1.000"/><path d="M144.43,866.96 L145.96,866.65 L147.49,866.37 L149.02,866.10 L150.56,865.84 L152.10,865.61 L153.64,865.39 L155.18,865.19 L156.73,865.00 L158.28,864.84 L159.83,864.69 L161.38,864.56 L162.93,864.44 L164.48,864.34 L166.04,864.26 L167.59,864.20 L169.15,864.16 L170.71,864.13 L172.26,864.12 L173.82,864.13 L175.38,864.16 L176.93,864.20 L178.49,864.26 L180.04,864.34 L181.60,864.44" fill="none" stroke="#ff0000" stroke-width="2.5" stroke-linecap="round" stroke-dasharray="2.0 10.454" stroke-dashoffset="1.000"/><path d="M181.60,864.44 L183.15,864.56 L184.69,864.69 L186.24,864.84 L187.79,865.01 L189.33,865.20 L190.87,865.40 L192.41,865.62 L193.94,865.86 L195.48,866.12 L197.01,866.40 L198.53,866.69 L200.05,867.00 L201.57,867.33 L203.09,867.68 L204.60,868.04 L206.11,868.42 L207.61,868.82 L209.11,869.23 L210.60,869.67 L212.09,870.11 L213.57,870.57 L215.05,871.05" fill="none" stroke="#ff0000" stroke-width="2.5" stroke-linecap="round" stroke-dasharray="2.0 9.397" stroke-dashoffset="1.000"/><path d="M215.05,871.05 L216.48,871.52 L217.91,872.01 L219.33,872.51 L220.75,873.02 L222.17,873.55 L223.58,874.08 L224.98,874.63 L226.38,875.18 L227.78,875.75 L229.18,876.32 L230.57,876.91 L231.95,877.50 L233.34,878.10 L234.72,878.71 L236.09,879.33 L237.46,879.96 L238.83,880.59 L240.20,881.23 L241.56,881.87 L242.92,882.52 L244.28,883.18 L245.63,883.85 L246.99,884.51" fill="none" stroke="#ff0000" stroke-width="2.5" stroke-linecap="round" stroke-dasharray="2.0 9.563" stroke-dashoffset="1.000"/><path d="M246.99,884.51 L248.38,885.21 L249.78,885.91 L251.17,886.62 L252.57,887.33 L253.95,888.04 L255.34,888.76 L256.73,889.48 L258.11,890.21 L259.50,890.94 L260.88,891.66 L262.26,892.40 L263.64,893.13 L265.02,893.86 L266.40,894.60 L267.77,895.33 L269.15,896.07 L270.53,896.80 L271.91,897.54 L273.29,898.28 L274.66,899.02 L276.04,899.75 L277.42,900.49 L278.79,901.23" fill="none" stroke="#ff0000" stroke-width="2.5" stroke-linecap="round" stroke-dasharray="2.0 9.978" stroke-dashoffset="1.000"/><path d="M278.79,901.23 L280.13,901.95 L281.46,902.66 L282.79,903.38 L284.13,904.10 L285.46,904.82 L286.79,905.53 L288.12,906.25 L289.45,906.97 L290.78,907.70 L292.11,908.42 L293.45,909.14 L294.77,909.86 L296.10,910.59 L297.43,911.31 L298.76,912.04 L300.09,912.76 L301.42,913.49 L302.74,914.22 L304.07,914.95 L305.39,915.68 L306.72,916.41 L308.04,917.14 L309.37,917.88 L310.69,918.61" fill="none" stroke="#ff0000" stroke-width="2.5" stroke-linecap="round" stroke-dasharray="2.0 10.109" stroke-dashoffset="1.000"/><path d="M310.69,918.61 L312.03,919.36 L313.37,920.10 L314.71,920.85 L316.04,921.60 L317.38,922.35 L318.72,923.10 L320.05,923.86 L321.39,924.61 L322.72,925.37 L324.05,926.12 L325.38,926.88 L326.71,927.64 L328.04,928.40 L329.37,929.17 L330.70,929.93 L332.03,930.70 L333.36,931.46 L334.68,932.23 L336.01,933.00 L337.34,933.77 L338.66,934.54 L339.98,935.31 L341.31,936.09" fill="none" stroke="#ff0000" stroke-width="2.5" stroke-linecap="round" stroke-dasharray="2.0 9.751" stroke-dashoffset="1.000"/><path d="M341.31,936.09 L342.64,936.87 L343.97,937.65 L345.31,938.44 L346.64,939.22 L347.97,940.01 L349.30,940.80 L350.63,941.59 L351.96,942.38 L353.29,943.17 L354.62,943.96 L355.95,944.76 L357.28,945.55 L358.60,946.35 L359.93,947.14 L361.25,947.94 L362.58,948.74 L363.90,949.54 L365.23,950.34 L366.55,951.14 L367.87,951.94 L369.20,952.74 L370.52,953.55 L371.84,954.35" fill="none" stroke="#ff0000" stroke-width="2.5" stroke-linecap="round" stroke-dasharray="2.0 9.859" stroke-dashoffset="1.000"/><path d="M371.84,954.35 L373.12,955.13 L374.40,955.92 L375.68,956.70 L376.96,957.49 L378.24,958.27 L379.52,959.06 L380.80,959.84 L382.08,960.63 L383.36,961.42 L384.63,962.21 L385.91,963.00 L387.19,963.79 L388.46,964.58 L389.74,965.37 L391.02,966.16 L392.29,966.95 L393.57,967.75 L394.84,968.54 L396.11,969.34 L397.39,970.13 L398.66,970.93 L399.93,971.72 L401.21,972.52 L402.48,973.32" fill="none" stroke="#ff0000" stroke-width="2.5" stroke-linecap="round" stroke-dasharray="2.0 10.012" stroke-dashoffset="1.000"/><path d="M402.48,973.32 L403.79,974.14 L405.10,974.96 L406.42,975.79 L407.73,976.61 L409.04,977.44 L410.35,978.27 L411.66,979.09 L412.98,979.92 L414.29,980.75 L415.60,981.58 L416.91,982.40 L418.22,983.23 L419.53,984.06 L420.84,984.89 L422.14,985.72 L423.45,986.55 L424.76,987.38 L426.07,988.21 L427.38,989.04 L428.69,989.87 L430.00,990.71 L431.30,991.54 L432.61,992.37" fill="none" stroke="#ff0000" stroke-width="2.5" stroke-linecap="round" stroke-dasharray="2.0 9.884" stroke-dashoffset="1.000"/><path d="M432.61,992.37 L433.92,993.21 L435.24,994.04 L436.55,994.88 L437.86,995.71 L439.17,996.55 L440.49,997.39 L441.80,998.22 L443.11,999.06 L444.42,999.90 L445.73,1000.74 L447.05,1001.57 L448.36,1002.41 L449.67,1003.25 L450.98,1004.09 L452.29,1004.92 L453.60,1005.76 L454.91,1006.60 L456.23,1007.44 L457.54,1008.27 L458.85,1009.11 L460.16,1009.95 L461.47,1010.79 L462.78,1011.62" fill="none" stroke="#ff0000" stroke-width="2.5" stroke-linecap="round" stroke-dasharray="2.0 9.931" stroke-dashoffset="1.000"/><path d="M462.78,1011.62 L464.05,1012.43 L465.32,1013.24 L466.58,1014.05 L467.85,1014.86 L469.11,1015.66 L470.38,1016.47 L471.65,1017.28 L472.91,1018.09 L474.18,1018.89 L475.45,1019.70 L476.71,1020.51 L477.98,1021.31 L479.25,1022.12 L480.51,1022.92 L481.78,1023.73 L483.05,1024.54 L484.32,1025.34 L485.58,1026.15 L486.85,1026.95 L488.12,1027.76 L489.39,1028.56 L490.66,1029.36 L491.93,1030.17 L493.19,1030.97" fill="none" stroke="#ff0000" stroke-width="2.5" stroke-linecap="round" stroke-dasharray="2.0 10.014" stroke-dashoffset="1.000"/><path d="M493.19,1030.97 L494.47,1031.77 L495.74,1032.58 L497.01,1033.38 L498.29,1034.19 L499.56,1034.99 L500.83,1035.79 L502.11,1036.59 L503.38,1037.40 L504.66,1038.20 L505.93,1039.00 L507.21,1039.80 L508.48,1040.60 L509.76,1041.40 L511.03,1042.20 L512.31,1042.99 L513.59,1043.79 L514.86,1044.59 L516.14,1045.39 L517.42,1046.18 L518.70,1046.98 L519.97,1047.77 L521.25,1048.57 L522.53,1049.36 L523.81,1050.15" fill="none" stroke="#ff0000" stroke-width="2.5" stroke-linecap="round" stroke-dasharray="2.0 10.044" stroke-dashoffset="1.000"/><path d="M523.81,1050.15 L525.13,1050.97 L526.44,1051.78 L527.76,1052.59 L529.08,1053.40 L530.39,1054.21 L531.71,1055.02 L533.03,1055.83 L534.34,1056.64 L535.66,1057.45 L536.98,1058.25 L538.30,1059.06 L539.62,1059.86 L540.94,1060.67 L542.26,1061.47 L543.59,1062.27 L544.91,1063.07 L546.23,1063.87 L547.55,1064.67 L548.88,1065.47 L550.20,1066.27 L551.53,1067.06 L552.85,1067.86" fill="none" stroke="#ff0000" stroke-width="2.5" stroke-linecap="round" stroke-dasharray="2.0 9.338" stroke-dashoffset="1.000"/><path d="M552.85,1067.86 L552.97,1067.93" fill="none" stroke="#ff0000" stroke-width="2.5" stroke-linecap="round" stroke-dasharray="2.0 10.0" stroke-dashoffset="1.000"/><path d="M65.60,931.40 L66.91,932.84 L68.22,934.28" fill="none" stroke="#1a9cf2" stroke-width="2.5" stroke-linecap="round" stroke-dasharray="2.0 10.0" stroke-dashoffset="9.104"/><path d="M68.22,934.28 L69.24,935.40 L70.27,936.52 L71.29,937.64 L72.31,938.77 L73.33,939.89 L74.35,941.01 L75.37,942.13 L76.39,943.25 L77.41,944.37 L78.43,945.49 L79.45,946.61 L80.48,947.74 L81.50,948.86 L82.52,949.98 L83.54,951.10 L84.56,952.22 L85.58,953.34 L86.60,954.46 L87.62,955.58 L88.64,956.70 L89.66,957.83 L90.69,958.95 L91.71,960.07 L92.73,961.19 L93.75,962.31 L94.77,963.43 L95.79,964.55 L96.81,965.67 L97.83,966.80 L98.85,967.92 L99.87,969.04 L100.89,970.16" fill="none" stroke="#1a9cf2" stroke-width="2.5" stroke-linecap="round" stroke-dasharray="2.0 10.131" stroke-dashoffset="1.000"/><path d="M100.89,970.16 L101.91,971.27 L102.93,972.39 L103.94,973.50 L104.96,974.62 L105.97,975.74 L106.99,976.85 L108.00,977.97 L109.02,979.08 L110.03,980.20 L111.05,981.31 L112.07,982.43 L113.08,983.54 L114.10,984.66 L115.11,985.77 L116.13,986.89 L117.14,988.00 L118.16,989.12 L119.17,990.23 L120.19,991.35 L121.21,992.46 L122.22,993.58 L123.24,994.69 L124.25,995.81 L125.27,996.92 L126.28,998.04 L127.30,999.15 L128.31,1000.27 L129.33,1001.39 L130.35,1002.50 L131.36,1003.62 L132.38,1004.73 L133.39,1005.85 L134.41,1006.96 L135.42,1008.08 L136.44,1009.19 L137.45,1010.31 L138.47,1011.42 L139.48,1012.54 L140.50,1013.65 L141.52,1014.77" fill="none" stroke="#1a9cf2" stroke-width="2.5" stroke-linecap="round" stroke-dasharray="2.0 10.066" stroke-dashoffset="1.000"/><path d="M141.52,1014.77 L142.54,1015.89 L143.57,1017.02 L144.59,1018.15 L145.62,1019.27 L146.65,1020.40 L147.67,1021.53 L148.70,1022.65 L149.72,1023.78 L150.75,1024.91 L151.78,1026.03 L152.80,1027.16 L153.83,1028.29 L154.85,1029.41 L155.88,1030.54 L156.91,1031.67 L157.93,1032.79 L158.96,1033.92 L159.98,1035.05 L161.01,1036.17 L162.04,1037.30 L163.06,1038.43 L164.09,1039.55 L165.11,1040.68 L166.14,1041.81 L167.16,1042.93 L168.19,1044.06 L169.22,1045.19 L170.24,1046.31 L171.27,1047.44 L172.29,1048.57 L173.32,1049.69 L174.35,1050.82" fill="none" stroke="#1a9cf2" stroke-width="2.5" stroke-linecap="round" stroke-dasharray="2.0 10.190" stroke-dashoffset="1.000"/><path d="M174.35,1050.82 L175.40,1051.98 L176.46,1053.14 L177.51,1054.30 L178.57,1055.46 L179.62,1056.61 L180.68,1057.77 L181.73,1058.93 L182.79,1060.09 L183.84,1061.25 L184.90,1062.41 L185.95,1063.57 L187.01,1064.72 L188.06,1065.88 L189.12,1067.04 L190.17,1068.20 L191.23,1069.36 L192.28,1070.52 L193.34,1071.68 L194.39,1072.84 L195.45,1073.99 L196.50,1075.15 L197.56,1076.31" fill="none" stroke="#1a9cf2" stroke-width="2.5" stroke-linecap="round" stroke-dasharray="2.0 9.492" stroke-dashoffset="1.000"/><path d="M197.56,1076.31 L198.57,1077.43 L199.59,1078.54 L200.61,1079.66 L201.62,1080.77 L202.64,1081.89 L203.65,1083.01 L204.67,1084.12 L205.69,1085.24 L206.70,1086.35 L207.72,1087.47 L208.73,1088.58 L209.75,1089.70 L210.77,1090.82 L211.78,1091.93 L212.80,1093.05 L213.82,1094.16 L214.83,1095.28 L215.85,1096.39 L216.86,1097.51 L217.88,1098.63 L218.90,1099.74 L219.91,1100.86 L220.93,1101.97 L221.94,1103.09 L222.96,1104.20 L223.98,1105.32 L224.99,1106.44 L226.01,1107.55 L227.02,1108.67 L228.04,1109.78 L229.06,1110.90 L230.07,1112.01" fill="none" stroke="#1a9cf2" stroke-width="2.5" stroke-linecap="round" stroke-dasharray="2.0 10.072" stroke-dashoffset="1.000"/><path d="M230.07,1112.01 L231.09,1113.13 L232.11,1114.25 L233.12,1115.36 L234.14,1116.48 L235.16,1117.60 L236.17,1118.71 L237.19,1119.83 L238.21,1120.95 L239.22,1122.06 L240.24,1123.18 L241.26,1124.30 L242.27,1125.41 L243.29,1126.53 L244.31,1127.65 L245.32,1128.76 L246.34,1129.88 L247.36,1131.00 L248.37,1132.11 L249.39,1133.23 L250.41,1134.35 L251.43,1135.46 L252.44,1136.58 L253.46,1137.70 L254.48,1138.81" fill="none" stroke="#1a9cf2" stroke-width="2.5" stroke-linecap="round" stroke-dasharray="2.0 10.082" stroke-dashoffset="1.000"/><path d="M254.48,1138.81 L255.51,1139.95 L256.54,1141.08 L257.57,1142.21 L258.60,1143.34 L259.63,1144.47 L260.66,1145.61 L261.69,1146.74 L262.72,1147.87 L263.75,1149.00 L264.78,1150.14 L265.82,1151.27 L266.85,1152.40 L267.88,1153.53 L268.91,1154.66 L269.94,1155.80 L270.97,1156.93 L272.00,1158.06 L273.03,1159.19 L274.06,1160.32 L275.09,1161.46 L276.12,1162.59 L277.15,1163.72 L278.19,1164.85 L279.22,1165.98 L280.25,1167.12 L281.28,1168.25 L282.31,1169.38 L283.34,1170.51 L284.37,1171.64 L285.40,1172.78 L286.43,1173.91" fill="none" stroke="#1a9cf2" stroke-width="2.5" stroke-linecap="round" stroke-dasharray="2.0 9.866" stroke-dashoffset="1.000"/><path d="M286.43,1173.91 L287.47,1175.04 L288.50,1176.18 L289.53,1177.31 L290.57,1178.45 L291.60,1179.58 L292.63,1180.72 L293.67,1181.85 L294.70,1182.99 L295.73,1184.12 L296.77,1185.26 L297.80,1186.39 L298.83,1187.53 L299.87,1188.66 L300.90,1189.80 L301.93,1190.93 L302.97,1192.07 L304.00,1193.20" fill="none" stroke="#1a9cf2" stroke-width="2.5" stroke-linecap="round" stroke-dasharray="2.0 10.0" stroke-dashoffset="1.000"/></g>
<rect x="68.0" y="2.6" width="615.2" height="605.9" fill="none" stroke="#000" stroke-width="2.1"/>
<rect x="65.7" y="712.6" width="617.5" height="603.4" fill="none" stroke="#000" stroke-width="2.1"/>
<line x1="150.00" y1="608.5" x2="150.00" y2="605.90" stroke="#000" stroke-width="2.2"/>
<line x1="232.00" y1="608.5" x2="232.00" y2="604.10" stroke="#000" stroke-width="2.2"/>
<line x1="314.00" y1="608.5" x2="314.00" y2="605.90" stroke="#000" stroke-width="2.2"/>
<line x1="396.00" y1="608.5" x2="396.00" y2="604.10" stroke="#000" stroke-width="2.2"/>
<line x1="478.00" y1="608.5" x2="478.00" y2="605.90" stroke="#000" stroke-width="2.2"/>
<line x1="560.00" y1="608.5" x2="560.00" y2="604.10" stroke="#000" stroke-width="2.2"/>
<line x1="642.00" y1="608.5" x2="642.00" y2="605.90" stroke="#000" stroke-width="2.2"/>
<line x1="68.0" y1="547.30" x2="70.10" y2="547.30" stroke="#000" stroke-width="2.2"/>
<line x1="68.0" y1="486.10" x2="72.00" y2="486.10" stroke="#000" stroke-width="2.2"/>
<line x1="68.0" y1="424.90" x2="70.10" y2="424.90" stroke="#000" stroke-width="2.2"/>
<line x1="68.0" y1="363.70" x2="72.00" y2="363.70" stroke="#000" stroke-width="2.2"/>
<line x1="68.0" y1="302.50" x2="70.10" y2="302.50" stroke="#000" stroke-width="2.2"/>
<line x1="68.0" y1="241.30" x2="72.00" y2="241.30" stroke="#000" stroke-width="2.2"/>
<line x1="68.0" y1="180.10" x2="70.10" y2="180.10" stroke="#000" stroke-width="2.2"/>
<line x1="68.0" y1="118.90" x2="72.00" y2="118.90" stroke="#000" stroke-width="2.2"/>
<line x1="68.0" y1="57.70" x2="70.10" y2="57.70" stroke="#000" stroke-width="2.2"/>
<line x1="109.85" y1="1316.0" x2="109.85" y2="1313.40" stroke="#000" stroke-width="2.2"/>
<line x1="154.10" y1="1316.0" x2="154.10" y2="1311.60" stroke="#000" stroke-width="2.2"/>
<line x1="198.35" y1="1316.0" x2="198.35" y2="1313.40" stroke="#000" stroke-width="2.2"/>
<line x1="242.60" y1="1316.0" x2="242.60" y2="1311.60" stroke="#000" stroke-width="2.2"/>
<line x1="286.85" y1="1316.0" x2="286.85" y2="1313.40" stroke="#000" stroke-width="2.2"/>
<line x1="331.10" y1="1316.0" x2="331.10" y2="1311.60" stroke="#000" stroke-width="2.2"/>
<line x1="375.35" y1="1316.0" x2="375.35" y2="1313.40" stroke="#000" stroke-width="2.2"/>
<line x1="419.60" y1="1316.0" x2="419.60" y2="1311.60" stroke="#000" stroke-width="2.2"/>
<line x1="463.85" y1="1316.0" x2="463.85" y2="1313.40" stroke="#000" stroke-width="2.2"/>
<line x1="508.10" y1="1316.0" x2="508.10" y2="1311.60" stroke="#000" stroke-width="2.2"/>
<line x1="552.35" y1="1316.0" x2="552.35" y2="1313.40" stroke="#000" stroke-width="2.2"/>
<line x1="596.60" y1="1316.0" x2="596.60" y2="1311.60" stroke="#000" stroke-width="2.2"/>
<line x1="640.85" y1="1316.0" x2="640.85" y2="1313.40" stroke="#000" stroke-width="2.2"/>
<line x1="65.7" y1="1255.00" x2="67.80" y2="1255.00" stroke="#000" stroke-width="2.2"/>
<line x1="65.7" y1="1194.00" x2="69.70" y2="1194.00" stroke="#000" stroke-width="2.2"/>
<line x1="65.7" y1="1133.00" x2="67.80" y2="1133.00" stroke="#000" stroke-width="2.2"/>
<line x1="65.7" y1="1072.00" x2="69.70" y2="1072.00" stroke="#000" stroke-width="2.2"/>
<line x1="65.7" y1="1011.00" x2="67.80" y2="1011.00" stroke="#000" stroke-width="2.2"/>
<line x1="65.7" y1="950.00" x2="69.70" y2="950.00" stroke="#000" stroke-width="2.2"/>
<line x1="65.7" y1="889.00" x2="67.80" y2="889.00" stroke="#000" stroke-width="2.2"/>
<line x1="65.7" y1="828.00" x2="69.70" y2="828.00" stroke="#000" stroke-width="2.2"/>
<line x1="65.7" y1="767.00" x2="67.80" y2="767.00" stroke="#000" stroke-width="2.2"/>
<text x="68.00" y="643" font-size="38" fill="#000" font-weight="normal" text-anchor="middle" >0</text>
<text x="232.00" y="643" font-size="38" fill="#000" font-weight="normal" text-anchor="middle" >2</text>
<text x="396.00" y="643" font-size="38" fill="#000" font-weight="normal" text-anchor="middle" >4</text>
<text x="560.00" y="643" font-size="38" fill="#000" font-weight="normal" text-anchor="middle" >6</text>
<text x="62.5" y="619.00" font-size="38" fill="#000" font-weight="normal" text-anchor="end" >0</text>
<text x="62.5" y="496.60" font-size="38" fill="#000" font-weight="normal" text-anchor="end" >2</text>
<text x="62.5" y="374.20" font-size="38" fill="#000" font-weight="normal" text-anchor="end" >4</text>
<text x="62.5" y="251.80" font-size="38" fill="#000" font-weight="normal" text-anchor="end" >6</text>
<text x="62.5" y="129.40" font-size="38" fill="#000" font-weight="normal" text-anchor="end" >8</text>
<text x="65.60" y="1349.3" font-size="38" fill="#000" font-weight="normal" text-anchor="middle" >0</text>
<text x="154.10" y="1349.3" font-size="38" fill="#000" font-weight="normal" text-anchor="middle" >200</text>
<text x="242.60" y="1349.3" font-size="38" fill="#000" font-weight="normal" text-anchor="middle" >400</text>
<text x="331.10" y="1349.3" font-size="38" fill="#000" font-weight="normal" text-anchor="middle" >600</text>
<text x="419.60" y="1349.3" font-size="38" fill="#000" font-weight="normal" text-anchor="middle" >800</text>
<text x="508.10" y="1349.3" font-size="38" fill="#000" font-weight="normal" text-anchor="middle" >1000</text>
<text x="596.60" y="1349.3" font-size="38" fill="#000" font-weight="normal" text-anchor="middle" >1200</text>
<text x="60.2" y="1326.50" font-size="38" fill="#000" font-weight="normal" text-anchor="end" >0</text>
<text x="60.2" y="1204.50" font-size="38" fill="#000" font-weight="normal" text-anchor="end" >2</text>
<text x="60.2" y="1082.50" font-size="38" fill="#000" font-weight="normal" text-anchor="end" >4</text>
<text x="60.2" y="960.50" font-size="38" fill="#000" font-weight="normal" text-anchor="end" >6</text>
<text x="60.2" y="838.50" font-size="38" fill="#000" font-weight="normal" text-anchor="end" >8</text>
<text x="0" y="0" font-size="38" font-weight="bold" letter-spacing="0.34" transform="translate(32.6,480.3) rotate(-90)">Tear Index (mNm<tspan dy="-14.5" font-size="25">2</tspan><tspan dy="14.5">/g)</tspan></text>
<text x="0" y="0" font-size="38" font-weight="bold" letter-spacing="0.34" transform="translate(36.6,1184.8) rotate(-90)">Tear Index (mNm<tspan dy="-14.5" font-size="25">2</tspan><tspan dy="14.5">/g)</tspan></text>
<text x="262" y="673" font-size="38" font-weight="bold">Bulk (cm<tspan dy="-14" font-size="24">3</tspan><tspan dy="14">/g)</tspan></text>
<text x="262" y="1381.8" font-size="38" font-weight="bold">SRE (kWh/ t)</text>
<text x="28.5" y="27.5" font-size="38" fill="#000" font-weight="bold" text-anchor="start" >a)</text>
<text x="27" y="739.3" font-size="38" fill="#000" font-weight="bold" text-anchor="start" >b)</text>
<line x1="358.7" y1="45.2" x2="375" y2="41.5" stroke="#3a3a3a" stroke-width="1"/>
<text x="378" y="48" font-size="22.3" fill="#000" font-weight="normal" text-anchor="start" >20% MFLC</text>
<line x1="460.7" y1="414.9" x2="473.9" y2="400.9" stroke="#3a3a3a" stroke-width="1"/>
<text x="472.5" y="392.7" font-size="22.3" fill="#000" font-weight="normal" text-anchor="start" >0% MFLC</text>
<line x1="203.2" y1="256.9" x2="219.7" y2="256.9" stroke="#3a3a3a" stroke-width="1.6"/>
<text x="92.8" y="263.5" font-size="22.3" fill="#000" font-weight="normal" text-anchor="start" >70% MFLC</text>
<line x1="253.3" y1="152.9" x2="265.5" y2="156.4" stroke="#ff0000" stroke-width="1"/>
<text x="142.6" y="158.4" font-size="22.3" fill="#ff0000" font-weight="normal" text-anchor="start" >20% MFLC</text>
<rect x="281.8" y="119" width="105.4" height="26" fill="#fff"/>
<line x1="335.7" y1="152" x2="344.6" y2="178.5" stroke="#ff0000" stroke-width="1"/>
<text x="286.2" y="141.3" font-size="22.3" fill="#ff0000" font-weight="normal" text-anchor="start" >0% MFLC</text>
<line x1="193.1" y1="376" x2="201" y2="369.7" stroke="#ff0000" stroke-width="1"/>
<text x="102.6" y="402" font-size="22.3" fill="#ff0000" font-weight="normal" text-anchor="start" >70% MFLC</text>
<line x1="326.3" y1="231.5" x2="334.5" y2="250.8" stroke="#1a98f0" stroke-width="1"/>
<text x="329" y="274.5" font-size="22.3" fill="#1a98f0" font-weight="normal" text-anchor="start" >LC- 0</text>
<line x1="209.5" y1="497.2" x2="213.9" y2="490.4" stroke="#1a98f0" stroke-width="1"/>
<text x="136.2" y="525.2" font-size="22.3" fill="#1a98f0" font-weight="normal" text-anchor="start" >LC- 545</text>
<line x1="217.7" y1="758.3" x2="241.7" y2="749.4" stroke="#3a3a3a" stroke-width="1"/>
<text x="235" y="739.3" font-size="22.3" fill="#000" font-weight="normal" text-anchor="start" >20% MFLC</text>
<line x1="561" y1="954.6" x2="562.9" y2="945.9" stroke="#3a3a3a" stroke-width="1"/>
<text x="546.6" y="936.8" font-size="22.3" fill="#000" font-weight="normal" text-anchor="start" >70% MFLC</text>
<line x1="76.6" y1="1137.8" x2="87.2" y2="1142.2" stroke="#3a3a3a" stroke-width="1"/>
<text x="86" y="1168" font-size="22.3" fill="#000" font-weight="normal" text-anchor="start" >0% MFLC</text>
<line x1="65.8" y1="893" x2="109.5" y2="773.2" stroke="#ff0000" stroke-width="1"/>
<text x="72.5" y="764.7" font-size="22.3" fill="#ff0000" font-weight="normal" text-anchor="start" >0% MFLC</text>
<line x1="208.9" y1="863.6" x2="215.1" y2="851.2" stroke="#ff0000" stroke-width="1"/>
<text x="194" y="839.1" font-size="22.3" fill="#ff0000" font-weight="normal" text-anchor="start" >20% MFLC</text>
<line x1="567.4" y1="1059.8" x2="573.4" y2="1048" stroke="#ff0000" stroke-width="1"/>
<text x="552.5" y="1036.6" font-size="22.3" fill="#ff0000" font-weight="normal" text-anchor="start" >70% MFLC</text>
<line x1="209" y1="1138.8" x2="220.7" y2="1093.8" stroke="#1a98f0" stroke-width="1"/>
<text x="214.3" y="1084.1" font-size="22.3" fill="#1a98f0" font-weight="normal" text-anchor="start" >LC-324</text>
<line x1="306.2" y1="1176.7" x2="309.2" y2="1158.3" stroke="#1a98f0" stroke-width="1"/>
<text x="284" y="1149.4" font-size="22.3" fill="#1a98f0" font-weight="normal" text-anchor="start" >LC-545</text>
<rect x="356.70" y="477.00" width="12" height="12" fill="#4d4d4d"/>
<circle cx="362.70" cy="520.70" r="6.3" fill="#ef4242"/>
<polygon points="362.70,550.40 370.60,563.40 354.80,563.40" fill="#1f6fe0"/>
<text x="391.5" y="490.5" font-size="30.5" fill="#000" font-weight="normal" text-anchor="start" >HS-LF/MFLC</text>
<text x="393.8" y="528.2" font-size="30.5" fill="#000" font-weight="normal" text-anchor="start" >HS-WP/MFLC</text>
<text x="393.8" y="565.9" font-size="30.5" fill="#000" font-weight="normal" text-anchor="start" >HS-Standard Sheets</text>
<rect x="393.00" y="1189.00" width="12" height="12" fill="#4d4d4d"/>
<circle cx="399.00" cy="1231.60" r="6.3" fill="#ff0000"/>
<polygon points="399.00,1262.20 406.90,1275.20 391.10,1275.20" fill="#1f6fe0"/>
<text x="429.8" y="1201.5" font-size="30.5" fill="#000" font-weight="normal" text-anchor="start" >HS-LF/MFLC</text>
<text x="429.8" y="1239.1" font-size="30.5" fill="#000" font-weight="normal" text-anchor="start" >HS-WP/MFLC</text>
<text x="429.8" y="1276.7" font-size="30.5" fill="#000" font-weight="normal" text-anchor="start" >HS-Standard Sheets</text>
</svg>
</body></html>
